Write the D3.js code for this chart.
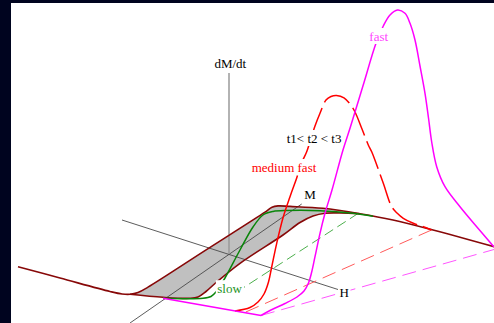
<!DOCTYPE html>
<html>
<head>
<meta charset="utf-8">
<script src="https://cdn.jsdelivr.net/npm/d3@7"></script>
<style>
  html, body { margin: 0; padding: 0; background: #00041f; }
  svg { display: block; }
  text { font-family: "Liberation Serif", "Times New Roman", Tinos, "DejaVu Serif", serif; font-size: 13px; }
</style>
</head>
<body>
<svg id="chart" width="494" height="323"></svg>
<script>
// Sketch units: origin where the H, M and dM/dt axes meet.
// Saturated left tail shared by both branches of the loop
const upperTail = [[-21.1,-1.27],[-16.9,-2.4],[-11.9,-3.75],[-10.7,-4.0],[-9.9,-4.03]];
// Descending branch (upper-left edge of the loop)
const descending = [[-9.9,-4.03],[-9.1,-3.85],[-8.1,-3.31],[-2.25,0.44],[3.6,4.19],[4.3,4.68],
  [4.9,4.81],[6.1,4.76],[9.4,4.57],[13.1,4.03]];
// Saturated right tail
const rightTail = [[13.1,4.03],[16.4,3.4],[20.4,2.4],[26.5,0.73]];
// Ascending branch (lower-right edge of the loop)
const ascending = [[-9.9,-4.03],[-6.6,-4.33],[-3.9,-4.43],[-3.1,-4.3],[-2.3,-3.75],[-1.4,-2.95],
  [1.1,-0.93],[5.4,1.9],[7.1,3.15],[8.4,3.8],[9.6,4.08],[11.1,4.11],[13.1,4.03]];

// Switching rate curves
const slow = [[-6.6,-4.43],[-2.6,-4.43],[-1.8,-4.25],[-1.3,-3.8],[-0.9,-3.2],[-0.4,-2.4],[1.1,0.4],
  [2.4,2.7],[3.4,3.9],[4.4,4.25],[5.8,4.35],[9.1,4.33],[12.4,4.07],[14.4,3.78]];
const mediumFast = [[0.6,-5.7],[2.1,-5.35],[2.9,-4.8],[3.5,-4.0],[3.95,-2.8],[4.27,-1.3],[4.77,1.07],
  [5.43,3.73],[6.1,5.73],[6.77,7.6],[7.3,9.2],[7.77,10.23],[8.1,11.23],[8.6,12.8],[9.1,14.07],
  [9.7,15.4],[10.2,15.75],[10.75,15.85],[11.5,15.62],[12.1,15.0],[12.6,14.2],[13.3,12.5],
  [13.93,10.9],[14.27,10.23],[15.43,7.07],[16.27,4.73],[16.8,4.1],[17.43,3.57],[18.43,3.07],
  [19.43,2.73],[20.25,2.4]];
const fast = [[-6.6,-4.43],[3.2,-6.15],[4.1,-5.65],[5.6,-4.95],[6.8,-4.3],[7.5,-3.7],[7.95,-2.9],
  [8.27,-1.8],[8.6,-0.27],[9.1,2.07],[9.6,4.07],[10.3,6.4],[11.4,10.4],[12.1,12.57],[13.4,16.82],
  [14.7,21.07],[15.43,22.8],[16.1,23.9],[16.85,24.4],[17.6,24.07],[18.1,23.07],[18.6,21.4],
  [19.1,18.8],[19.6,16.07],[19.95,13.6],[20.27,11.2],[20.77,8.73],[21.6,6.73],[23.1,4.73],
  [24.77,2.73],[26.5,0.7]];

// Projections of each curve onto the H-M plane
const slowBase = [[12.93,4.07],[0.7,-3.85]];
const mediumBase = [[20.25,2.4],[1.5,-5.88]];
const fastBase = [[3.2,-6.15],[26.5,0.45]];

// Axes
const hAxis = [[-10.7,3.4],[10.9,-3.55]];
const mAxis = [[-9.9,-6.9],[7.27,5.0]];
const rateAxis = [[0,18.1],[0,0]];

const labels = [
  { text: "dM/dt",        x: 0.13,  y: 18.57, color: "#000",    anchor: "middle" },
  { text: "M",            x: 8.1,   y: 5.47,  color: "#000",    anchor: "middle" },
  { text: "H",            x: 11.53, y: -4.27, color: "#000",    anchor: "middle" },
  { text: "t1< t2 < t3",  x: 5.77,  y: 11.15, color: "#000",    anchor: "start" },
  { text: "medium fast",  x: 2.27,  y: 8.25,  color: "#ff0000", anchor: "start" },
  { text: "fast",         x: 14.03, y: 21.35, color: "#ff44ff", anchor: "start" },
  { text: "slow",         x: -1.17, y: -3.87, color: "#1f931f", anchor: "start" }
];

const svg = d3.select("#chart");
const x = d3.scaleLinear().domain([-21.8, 26.5]).range([11, 494]);
const y = d3.scaleLinear().domain([-6.9, 25.1]).range([323, 3]);

svg.append("rect").attr("width", 494).attr("height", 323).attr("fill", "#00041f");
svg.append("rect")
  .attr("x", x(-21.8)).attr("y", y(25.1))
  .attr("width", x(26.5) - x(-21.8)).attr("height", y(-6.9) - y(25.1))
  .attr("fill", "#ffffff");

const smooth = d3.line().x(d => x(d[0])).y(d => y(d[1])).curve(d3.curveCatmullRom.alpha(0.5));
const straight = d3.line().x(d => x(d[0])).y(d => y(d[1]));

// Hysteresis band between the two branches
const band = smooth(descending) + smooth(ascending.slice().reverse()).replace(/^M/, "L") + "Z";
svg.append("path").attr("d", band).attr("fill", "#c0c0c0").attr("stroke", "none");

// Axes
svg.append("path").attr("d", straight(hAxis)).attr("stroke", "#4a4a4a").attr("stroke-width", 0.9).attr("fill", "none");
svg.append("path").attr("d", straight(mAxis)).attr("stroke", "#4a4a4a").attr("stroke-width", 0.9).attr("fill", "none");
svg.append("path").attr("d", straight(rateAxis)).attr("stroke", "#9a9a9a").attr("stroke-width", 1.5).attr("fill", "none");

// Base projections
const dashed = (pts, color, pattern) => svg.append("path").attr("d", straight(pts))
  .attr("fill", "none").attr("stroke", color).attr("stroke-width", 1)
  .attr("stroke-dasharray", pattern);
dashed(slowBase, "#4caf4c", "10,5");
dashed(mediumBase, "#ff5a5a", "14,7");
dashed(fastBase, "#ff55ff", "14,7");

// Loop outline
const loopColor = "#870808";
svg.append("path")
  .attr("d", smooth(upperTail.concat(descending.slice(1), rightTail.slice(1))))
  .attr("fill", "none").attr("stroke", loopColor).attr("stroke-width", 1.6);
svg.append("path").attr("d", smooth(ascending))
  .attr("fill", "none").attr("stroke", loopColor).attr("stroke-width", 1.6);

// Slow switching curve
svg.append("path").attr("d", smooth(slow))
  .attr("fill", "none").attr("stroke", "#0a850a").attr("stroke-width", 1.5);

// Medium fast curve: solid from the base, dashed above
const medPath = svg.append("path").attr("d", smooth(mediumFast))
  .attr("fill", "none").attr("stroke", "#ff0000").attr("stroke-width", 1.5);
(function () {
  const node = medPath.node();
  const total = node.getTotalLength();
  const limit = y(7.8);
  let first = 0;
  for (let s = 0; s <= total; s += 0.5) {
    if (node.getPointAtLength(s).y <= limit) { first = s; break; }
  }
  const pattern = [first];
  let s = first;
  while (s < total) { pattern.push(6, 30); s += 36; }
  pattern.push(total);
  medPath.attr("stroke-dasharray", pattern.join(","));
})();

// Fast curve: straight run along the base, then the tall peak
svg.append("path").attr("d", straight(fast.slice(0, 2)))
  .attr("fill", "none").attr("stroke", "#ff00ff").attr("stroke-width", 1.5);
svg.append("path").attr("d", smooth(fast.slice(1)))
  .attr("fill", "none").attr("stroke", "#ff00ff").attr("stroke-width", 1.5);

// Labels on white boxes
labels.forEach(l => {
  const g = svg.append("g");
  const t = g.append("text")
    .attr("x", x(l.x)).attr("y", y(l.y))
    .attr("text-anchor", l.anchor)
    .attr("fill", l.color)
    .text(l.text);
  const b = t.node().getBBox();
  g.insert("rect", "text")
    .attr("x", b.x - 1.5).attr("y", b.y - 0.5)
    .attr("width", b.width + 3).attr("height", b.height + 1)
    .attr("fill", "#ffffff");
});
</script>
</body>
</html>
